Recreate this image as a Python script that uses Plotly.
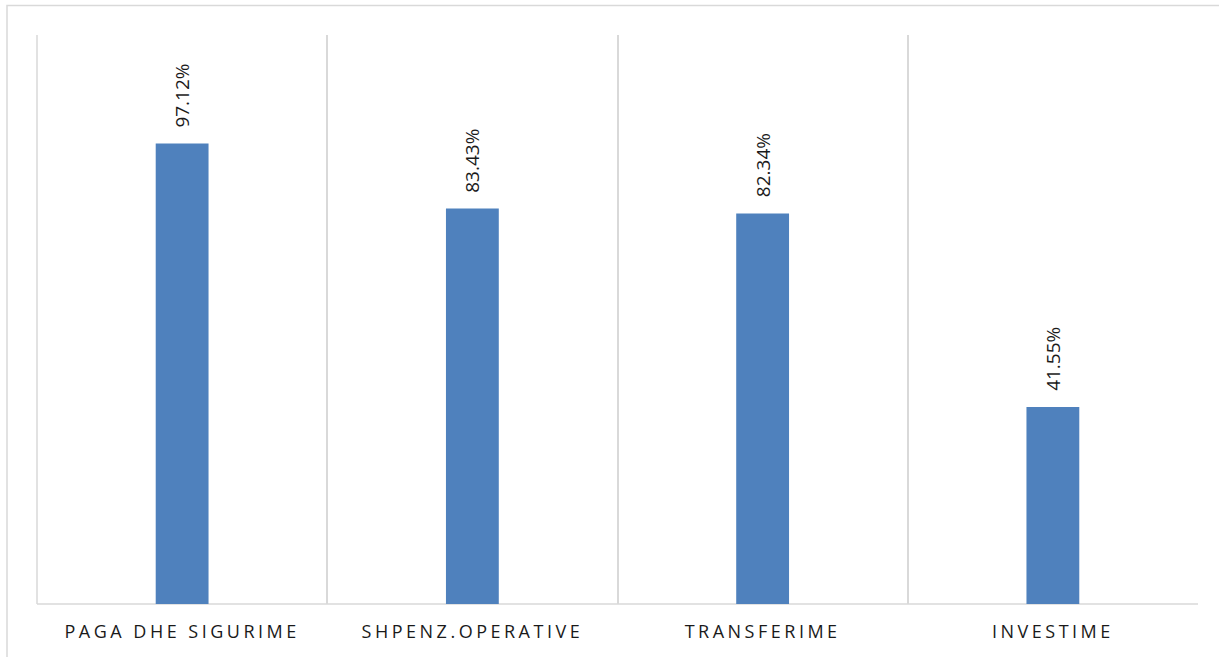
import plotly.graph_objects as go

categories = ["PAGA DHE SIGURIME", "SHPENZ.OPERATIVE", "TRANSFERIME", "INVESTIME"]
values = [97.12, 83.43, 82.34, 41.55]
labels = ["97.12%", "83.43%", "82.34%", "41.55%"]

BAR_COLOR = "#4f81bd"
GRID_COLOR = "#d9d9d9"
TEXT_COLOR = "#1a1a1a"
FONT = "Open Sans"

fig = go.Figure()
fig.add_trace(go.Bar(
    x=categories,
    y=values,
    width=0.182,
    marker=dict(color=BAR_COLOR, line=dict(width=0)),
    hoverinfo="skip",
))

# value labels, rotated, sitting above each bar
for cat, val, lab in zip(categories, values, labels):
    fig.add_annotation(
        x=cat, y=val, text=lab, textangle=-90,
        showarrow=False, xanchor="center", yanchor="bottom", yshift=14,
        font=dict(family=FONT, size=19, color=TEXT_COLOR),
    )

# chart-area frame (top and left edges visible)
fig.add_shape(
    type="rect", xref="paper", yref="paper",
    x0=-30 / 1161, x1=1240 / 1161, y0=-60 / 569, y1=(569 + 29.5) / 569,
    line=dict(color=GRID_COLOR, width=1.5), fillcolor="rgba(0,0,0,0)",
    layer="below",
)
# left edge and baseline of the plotting area
fig.add_shape(
    type="line", xref="paper", yref="paper",
    x0=0, x1=0, y0=0, y1=1,
    line=dict(color=GRID_COLOR, width=1.5),
    layer="below",
)
fig.add_shape(
    type="line", xref="paper", yref="paper",
    x0=0, x1=1, y0=0, y1=0,
    line=dict(color=GRID_COLOR, width=1.5),
    layer="below",
)

fig.update_layout(
    width=1219, height=657,
    margin=dict(l=37, r=21, t=35, b=53),
    paper_bgcolor="white", plot_bgcolor="white",
    showlegend=False,
    font=dict(family=FONT, color=TEXT_COLOR),
    xaxis=dict(
        type="category", tickson="boundaries", showgrid=True,
        gridcolor=GRID_COLOR, gridwidth=1.5,
        showline=False, zeroline=False,
        ticks="", ticklabelstandoff=15,
        tickfont=dict(family=FONT, size=18, color=TEXT_COLOR),
        range=[-0.5, 3.5],
    ),
    yaxis=dict(
        range=[0, 120], showgrid=False, showticklabels=False,
        zeroline=False, showline=False, fixedrange=True,
    ),
)

post = """
var gd = document.getElementById('{plot_id}');
function spaceTicks(){
  gd.querySelectorAll('.xtick text').forEach(function(t){ t.style.letterSpacing = '3.5px'; });
}
spaceTicks();
gd.on('plotly_afterplot', spaceTicks);
"""

fig.write_html("out.html", post_script=post, config={"displayModeBar": False})
